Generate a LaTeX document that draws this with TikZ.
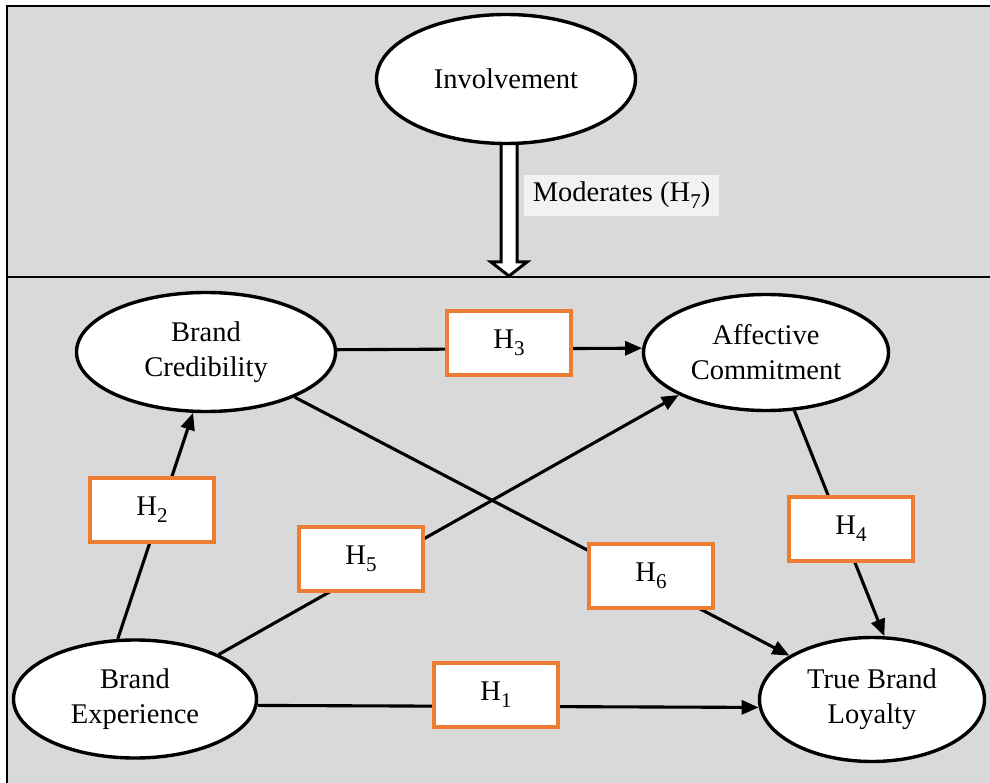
\documentclass[tikz,border=0pt]{standalone}
\usepackage{fontspec}
\setmainfont{Liberation Serif}
\usetikzlibrary{arrows.meta,shapes.geometric,calc}

\definecolor{panelgray}{HTML}{D9D9D9}
\definecolor{notegray}{HTML}{F2F2F2}
\definecolor{hypo}{HTML}{ED7D31}

% lowered, smaller digit for hypothesis labels
\newcommand\hsub[1]{\raisebox{-0.24em}{\fontsize{21}{21}\selectfont #1}}

\tikzset{
  construct/.style={ellipse, draw=black, line width=3.4pt, fill=white,
    inner sep=0pt, align=center, font=\fontsize{28.5}{35}\selectfont},
  hbox/.style={rectangle, draw=hypo, line width=3.2pt, fill=white,
    minimum width=124pt, minimum height=64pt, inner sep=0pt,
    font=\fontsize{28.5}{35}\selectfont},
  conn/.style={line width=3.1pt, -{Triangle[length=17pt,width=14pt]}},
}

\begin{document}
\begin{tikzpicture}[x=1pt,y=-1pt]
\useasboundingbox (0,0) rectangle (990,783);

% panels
\fill[panelgray] (7,6) rectangle (1000,790);
\draw[line width=2.6pt] (7,790) -- (7,6) -- (1000,6);
\draw[line width=2.4pt] (7,277) -- (1000,277);

% moderator
\coordinate (invbase) at (506,145);
\draw[line width=3pt, fill=white, line join=miter]
  ($(invbase)+(-5,-10)$) -- ($(invbase)+(-5,117)$) -- ($(invbase)+(-15,117)$)
  -- ($(invbase)+(3,131)$) -- ($(invbase)+(21,117)$) -- ($(invbase)+(11,117)$)
  -- ($(invbase)+(11,-10)$) -- cycle;
\node[construct, minimum width=259pt, minimum height=129pt] (inv) at (506,79) {Involvement};
\node[fill=notegray, minimum width=195pt, minimum height=41pt, inner sep=0pt,
  font=\fontsize{28.5}{35}\selectfont] (mod) at (621.5,195.5) {Moderates (H\hsub{7})};

% constructs
\node[construct, minimum width=259pt, minimum height=119pt] (bc) at (206,352) {Brand\\Credibility};
\node[construct, minimum width=245pt, minimum height=116pt] (ac) at (766,352.5) {Affective\\Commitment};
\node[construct, minimum width=243pt, minimum height=118pt] (be) at (135,699) {Brand\\Experience};
\node[construct, minimum width=225pt, minimum height=124pt] (tbl) at (872,699.5) {True Brand\\Loyalty};

% hypothesised paths
\draw[conn] (bc.1.5) -- (ac.178.4);
\draw[conn] (be.106) -- (bc.258);
\draw[conn] (be.28) -- (ac.206.3);
\draw[conn] (bc.333) -- (tbl.152);
\draw[conn] (ac.296) -- (tbl.79);
\draw[conn] (be.-3) -- (tbl.184.5);

% hypothesis labels
\node[hbox] (h3) at (509,343) {H\hsub{3}};
\node[hbox] (h2) at (152,510) {H\hsub{2}};
\node[hbox] (h5) at (361,559) {H\hsub{5}};
\node[hbox] (h6) at (651,576) {H\hsub{6}};
\node[hbox] (h4) at (851,529) {H\hsub{4}};
\node[hbox] (h1) at (496,695) {H\hsub{1}};
\end{tikzpicture}
\end{document}
